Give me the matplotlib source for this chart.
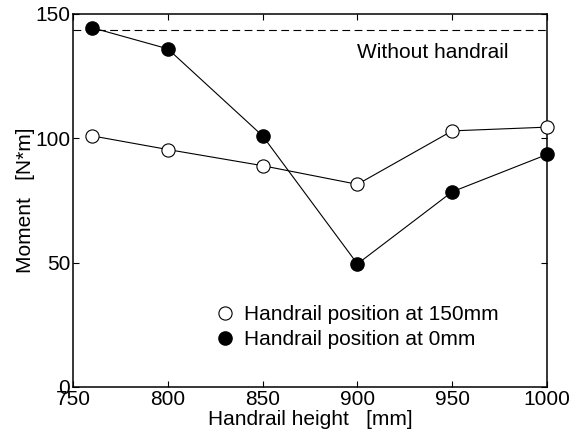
import matplotlib
matplotlib.use("Agg")
import matplotlib.pyplot as plt

plt.rcParams['font.family'] = ['Liberation Sans', 'DejaVu Sans']

heights = [760, 800, 850, 900, 950, 1000]
moment_150mm = [101, 95.5, 89, 81.5, 103, 104.5]
moment_0mm = [144.5, 136, 101, 49.5, 78.5, 93.5]
moment_without = 143.5

fig = plt.figure(figsize=(5.8, 4.36), dpi=100)
ax = fig.add_axes([73 / 580, 1 - 387 / 436, 474 / 580, 373 / 436])

ax.axhline(moment_without, color='black', linestyle=(0, (7, 4)), linewidth=0.8)
ax.plot(heights, moment_150mm, color='black', linewidth=0.8, marker='o',
        markersize=9.5, markerfacecolor='white', markeredgecolor='black',
        markeredgewidth=0.8, label='Handrail position at 150mm', clip_on=False, zorder=3)
ax.plot(heights, moment_0mm, color='black', linewidth=0.8, marker='o',
        markersize=9.5, markerfacecolor='black', markeredgecolor='black',
        label='Handrail position at 0mm', clip_on=False, zorder=3)

ax.text(940, 134.5, 'Without handrail', fontsize=15, ha='center', va='center')

ax.set_xlim(750, 1000)
ax.set_ylim(0, 150)
ax.set_xticks([750, 800, 850, 900, 950, 1000])
ax.set_yticks([0, 50, 100, 150])
ax.tick_params(direction='in', top=True, right=True, labelsize=15,
               length=4, width=0.8, pad=2)
for s in ax.spines.values():
    s.set_linewidth(1.1)

ax.set_xlabel('Handrail height   [mm]', fontsize=15, labelpad=1)
ax.set_ylabel('Moment   [N*m]', fontsize=15, labelpad=0)

leg = ax.legend(loc='center left', bbox_to_anchor=(0.281, 0.16), frameon=False,
                fontsize=15, handlelength=0, handletextpad=0.9,
                labelspacing=0.3, markerscale=1.0)
for line in leg.get_lines():
    line.set_linestyle('')

fig.savefig('out.png', dpi=100)
